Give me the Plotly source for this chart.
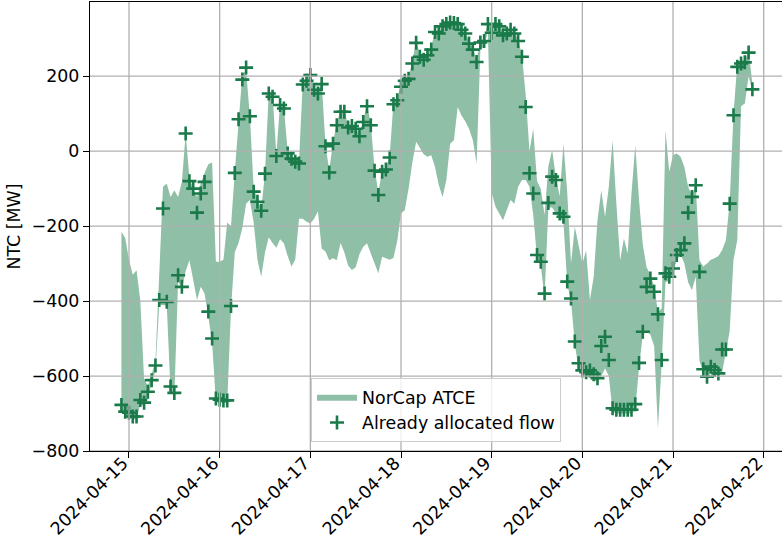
import pandas as pd
import plotly.graph_objects as go

# ---------------- data (hourly, UTC) ----------------
start_time = "2024-04-14 22:00"

flow = [
    -677, -695, -698, -708, -708, -664, -671, -642, -611, -572,
    -397, -153, -402, -628, -645, -331, -362, 47, -80, -100,
    -164, -113, -82, -428, -500, -660, -663, -665, -665, -413,
    -58, 85, 191, 223, 93, -108, -135, -159, -60, 154,
    145, -13, 123, 114, -6, -20, -28, -33, 178, 188,
    203, 164, 154, 179, 13, -57, 20, 69, 105, 105,
    63, 67, 60, 40, 78, 120, 69, -52, -117, -55,
    -49, -17, 125, 136, 172, 188, 193, 234, 289, 252,
    244, 256, 271, 318, 314, 333, 339, 343, 342, 339,
    324, 314, 287, 271, 238, 290, 294, 339, 316, 339,
    333, 309, 314, 324, 314, 294, 252, 118, -59, -113,
    -277, -295, -380, -138, -68, -77, -166, -175, -348, -393,
    -508, -566, -585, -590, -585, -595, -606, -520, -495, -557,
    -686, -690, -690, -690, -690, -690, -675, -565, -482, -362,
    -340, -375, -435, -557, -326, -335, -313, -277, -264, -246,
    -164, -122, -91, -322, -582, -602, -575, -584, -593, -529,
    -529, -140, 96, 225, 234, 237, 263, 165,
]

atce_upper = [
    -215, -232, -290, -330, -318, -400, -610, -625, -595, -560,
    -330, -95, -86, -122, -104, -122, -82, 47, -72, -100,
    -122, -86, -58, -35, -30, -295, -295, -290, -190, -200,
    -55, 88, 205, 215, 93, -100, -130, -155, -58, 160,
    150, -8, 127, 116, 0, -15, -24, -28, 185, 195,
    210, 170, 160, 185, 18, -52, 25, 74, 110, 110,
    68, 72, 65, 45, 83, 125, 74, -47, -110, -50,
    -44, -12, 130, 141, 177, 193, 198, 240, 295, 258,
    250, 262, 277, 322, 318, 337, 343, 347, 346, 343,
    328, 318, 292, 276, 243, 295, 299, 342, 325, 342,
    337, 318, 318, 327, 318, 298, 256, 150, 0, 60,
    -80, -100, -170, -40, 3, -70, -120, 20, -110, -300,
    -202, -255, -300, -265, -397, -335, -184, -104, -175, -95,
    29, -140, -291, -233, -273, -113, 16, -130, -250, -310,
    -330, -360, -430, -420, 56, -55, -10, -6, -15, -42,
    -95, -118, -88, -291, -308, -300, -290, -286, -280, -264,
    -237, -135, 100, 232, 243, 242, 268, 180,
]

atce_lower = [
    -690, -705, -710, -715, -715, -675, -680, -655, -622, -585,
    -410, -410, -412, -640, -655, -345, -370, -320, -291, -344,
    -397, -362, -380, -442, -510, -670, -672, -672, -672, -420,
    -270, -245, -205, -140, -130, -190, -290, -335, -270, -230,
    -245, -258, -235, -246, -280, -308, -290, -180, -180, -188,
    -193, -180, -160, -260, -268, -291, -286, -291, -245, -270,
    -305, -317, -310, -275, -255, -246, -273, -300, -326, -282,
    -285, -290, -285, -240, -166, -157, -100, -30, 25, 10,
    -8, -15, -11, -42, -90, -122, -77, 20, 29, 118,
    95, 80, 60, 30, -33, 270, 280, 320, -110, -148,
    -166, -184, -157, -130, -140, -95, -77, -77, -95, -170,
    -285, -305, -390, -150, -150, -166, -178, -190, -355, -400,
    -515, -580, -600, -605, -600, -610, -615, -600, -580, -600,
    -695, -700, -700, -700, -700, -700, -690, -575, -490, -480,
    -490, -520, -740, -565, -350, -345, -325, -290, -275, -300,
    -350, -371, -335, -560, -590, -610, -590, -595, -600, -590,
    -540, -480, -290, -237, 120, 127, 200, 160,
]

y_ticks = [-800, -600, -400, -200, 0, 200]
x_tick_days = ["2024-04-15", "2024-04-16", "2024-04-17", "2024-04-18",
               "2024-04-19", "2024-04-20", "2024-04-21", "2024-04-22"]

series_names = ["NorCap ATCE", "Already allocated flow"]

# ---------------- figure ----------------
times = pd.date_range(start_time, periods=len(flow), freq="h")

FILL = "#8fbfa6"
MARK = "#1a7a4a"
GRID = "#b0b0b0"
FONT = "DejaVu Sans"
FS = 17.4

fig = go.Figure()
fig.add_trace(go.Scatter(
    x=times, y=atce_lower, mode="lines", line=dict(width=0, color=FILL),
    showlegend=False, hoverinfo="skip", legendgroup="a"))
fig.add_trace(go.Scatter(
    x=times, y=atce_upper, mode="lines", line=dict(width=0, color=FILL),
    fill="tonexty", fillcolor=FILL, name=series_names[0], legendgroup="a"))
fig.add_trace(go.Scatter(
    x=times, y=flow, mode="markers", name=series_names[1], legendgroup="b",
    marker=dict(symbol="cross-thin", size=10, color=MARK,
                line=dict(width=2.6, color=MARK))))

t0 = pd.Timestamp(start_time)
x_range = [t0 - pd.Timedelta(hours=8.32), t0 + pd.Timedelta(hours=174.84)]
y_range = [-800, 398]

# gridlines drawn above the data, like matplotlib's default
shapes = []
for d in x_tick_days:
    shapes.append(dict(type="line", xref="x", yref="paper", x0=d, x1=d, y0=0, y1=1,
                       line=dict(color=GRID, width=1.3), layer="above"))
for v in y_ticks:
    shapes.append(dict(type="line", xref="paper", yref="y", x0=0, x1=1, y0=v, y1=v,
                       line=dict(color=GRID, width=1.3), layer="above"))

fig.update_layout(
    width=782, height=546,
    margin=dict(l=90, r=0, t=2, b=95, autoexpand=False),
    paper_bgcolor="white", plot_bgcolor="white",
    font=dict(family=FONT, size=FS, color="black"),
    shapes=shapes,
    showlegend=True,
    legend=dict(
        x=0.5, xanchor="center", y=0.02, yanchor="bottom",
        bgcolor="rgba(255,255,255,0.8)", bordercolor="#cccccc", borderwidth=1,
        font=dict(family=FONT, size=FS, color="black"),
        traceorder="grouped", tracegroupgap=0, itemwidth=40,
    ),
)
fig.update_xaxes(
    type="date", range=x_range, automargin=False,
    tickvals=x_tick_days, ticktext=x_tick_days, tickangle=-45,
    ticklabelshift=-6, ticklabelstandoff=-12,
    showgrid=False, zeroline=False,
    showline=True, linecolor="black", linewidth=1.3, mirror=True,
    ticks="outside", ticklen=6, tickwidth=1.3, tickcolor="black",
    tickfont=dict(family=FONT, size=FS, color="black"),
)
fig.update_yaxes(
    range=y_range, tickvals=y_ticks, automargin=False,
    showgrid=False, zeroline=False,
    showline=True, linecolor="black", linewidth=1.3, mirror=False,
    ticks="outside", ticklen=6, tickwidth=1.3, tickcolor="black",
    tickfont=dict(family=FONT, size=FS, color="black"),
    title=dict(text="NTC [MW]", standoff=6, font=dict(family=FONT, size=FS, color="black")),
)

fig.write_html(
    "out.html",
    config={"displayModeBar": False},
    post_script="document.body.style.margin='0px';document.body.style.overflow='hidden';",
)
